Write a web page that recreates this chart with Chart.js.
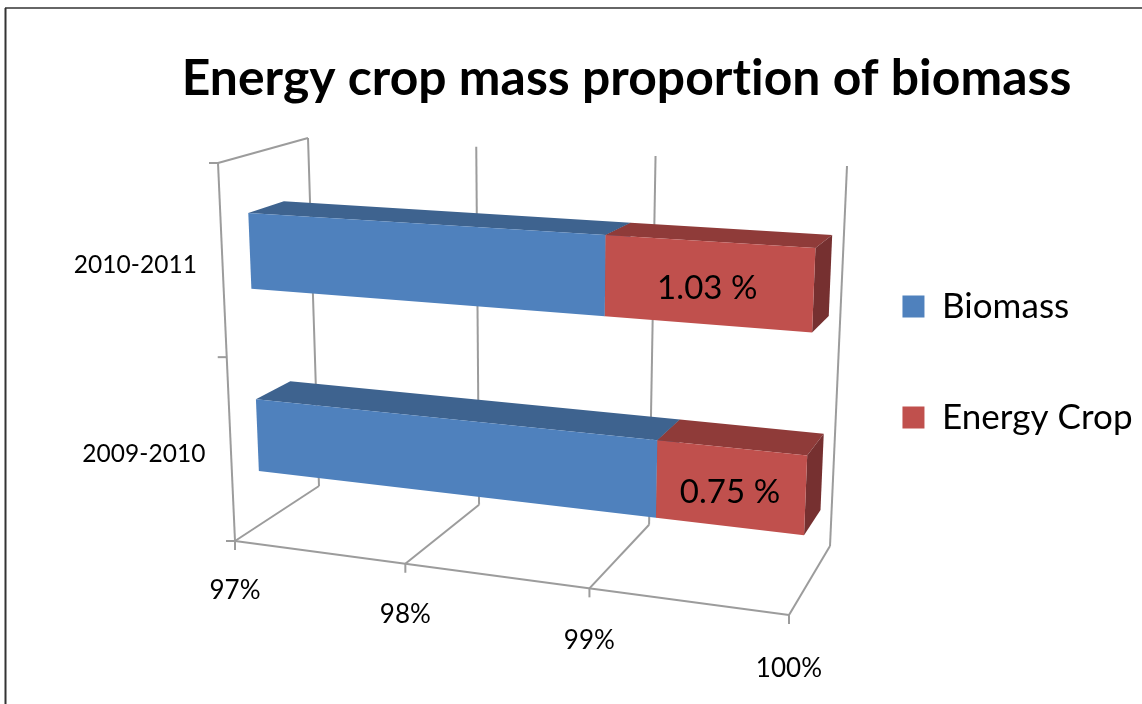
<!doctype html>
<html lang="en">
<head>
    <title>Energy crop mass proportion of biomass</title>
    <meta charset="utf-8">
    <script src="https://cdn.jsdelivr.net/npm/chart.js@4"></script>
    <style>
        body { margin: 0; background: #fff; }
        canvas { display: block; }
    </style>
</head>
<body>
<canvas id="myChart" width="1142" height="704"></canvas>

<script>
    const categories = ['2010-2011', '2009-2010'];
    const biomass = [98.97, 99.25];
    const energyCrop = [1.03, 0.75];
    const axisMin = 97;
    const axisMax = 100;

    // the 3D box: floor and wall corners of the front and back planes, as (0,0) (1,0) (1,1) (0,1)
    const frontPlane = [[235, 541], [789, 615], [805, 191], [218, 163]];
    const backPlane = [[319, 486], [830, 546], [847, 166], [308, 138]];
    const barFront = 0.31;
    const barBack = 0.71;

    function squareToQuad(q) {
        const dx1 = q[1][0] - q[2][0], dx2 = q[3][0] - q[2][0], sx = q[0][0] - q[1][0] + q[2][0] - q[3][0];
        const dy1 = q[1][1] - q[2][1], dy2 = q[3][1] - q[2][1], sy = q[0][1] - q[1][1] + q[2][1] - q[3][1];
        const den = dx1 * dy2 - dx2 * dy1;
        const g = (sx * dy2 - dx2 * sy) / den;
        const h = (dx1 * sy - sx * dy1) / den;
        const a = q[1][0] - q[0][0] + g * q[1][0], b = q[3][0] - q[0][0] + h * q[3][0];
        const d = q[1][1] - q[0][1] + g * q[1][1], e = q[3][1] - q[0][1] + h * q[3][1];
        return function (u, v) {
            const w = g * u + h * v + 1;
            return [(a * u + b * v + q[0][0]) / w, (d * u + e * v + q[0][1]) / w];
        };
    }
    const front = squareToQuad(frontPlane);
    const back = squareToQuad(backPlane);

    function project(u, v, depth) {
        const p = front(u, v), q = back(u, v);
        return [p[0] + (q[0] - p[0]) * depth, p[1] + (q[1] - p[1]) * depth];
    }

    function line(ctx, a, b) {
        ctx.beginPath();
        ctx.moveTo(a[0], a[1]);
        ctx.lineTo(b[0], b[1]);
        ctx.stroke();
    }

    function face(ctx, pts, color) {
        ctx.fillStyle = color;
        ctx.beginPath();
        pts.forEach(function (p) { ctx.lineTo(p[0], p[1]); });
        ctx.closePath();
        ctx.fill();
    }

    const box3d = {
        id: 'box3d',
        beforeDraw(chart) {
            const ctx = chart.ctx;
            // a small spacing keeps Lato from joining "ti" into a ligature
            ctx.letterSpacing = '0.05px';
            ctx.save();
            ctx.fillStyle = '#fff';
            ctx.fillRect(0, 0, chart.width, chart.height);
            ctx.strokeStyle = '#333';
            ctx.lineWidth = 2;
            line(ctx, [5.5, 704], [5.5, 8]);
            ctx.lineWidth = 1.5;
            line(ctx, [5, 8], [1142, 8]);
            ctx.restore();
        },
        beforeDatasetsDraw(chart) {
            const ctx = chart.ctx;
            const xs = chart.scales.x, ys = chart.scales.y;
            const uOf = function (px) { return (px - xs.left) / xs.width; };
            const vOf = function (py) { return (ys.bottom - py) / ys.height; };

            ctx.save();
            ctx.strokeStyle = '#9c9c9c';
            ctx.lineWidth = 2;
            ctx.fillStyle = '#000';
            ctx.textAlign = 'center';
            ctx.textBaseline = 'middle';

            // walls, floor and value ticks
            ctx.font = '26px Lato';
            xs.ticks.forEach(function (tick) {
                const u = uOf(xs.getPixelForValue(tick.value));
                const p = project(u, 0, 0);
                line(ctx, project(u, 1, 1), project(u, 0, 1));
                line(ctx, project(u, 0, 1), p);
                line(ctx, p, [p[0], p[1] + 9]);
                ctx.fillText(tick.label, p[0], p[1] + 50 + 4 * u);
            });
            line(ctx, project(0, 0, 0), project(0, 1, 0));
            line(ctx, project(0, 1, 0), project(0, 1, 1));
            line(ctx, project(0, 0, 0), project(1, 0, 0));

            // category ticks sit between the categories
            const mid = (ys.getPixelForTick(0) + ys.getPixelForTick(1)) / 2;
            [ys.top, mid, ys.bottom].forEach(function (py) {
                const p = project(0, vOf(py), 0);
                line(ctx, [p[0] - 9, p[1]], p);
            });
            ctx.font = '24.5px Lato';
            ys.ticks.forEach(function (tick, i) {
                const p = project(0, vOf(ys.getPixelForTick(i)), 0);
                ctx.fillText(tick.label, p[0] - 87, p[1] + 4);
            });

            // bars, first dataset first so the energy crop part covers the joint
            chart.data.datasets.forEach(function (ds, di) {
                chart.getDatasetMeta(di).data.forEach(function (el) {
                    const r = el.getProps(['x', 'base', 'y', 'height'], true);
                    const u0 = uOf(Math.max(r.base, xs.left)), u1 = uOf(r.x);
                    const v0 = vOf(r.y + r.height / 2), v1 = vOf(r.y - r.height / 2);
                    face(ctx, [project(u0, v1, barFront), project(u1, v1, barFront),
                        project(u1, v1, barBack), project(u0, v1, barBack)], ds.topColor);
                    face(ctx, [project(u1, v0, barFront), project(u1, v0, barBack),
                        project(u1, v1, barBack), project(u1, v1, barFront)], ds.sideColor);
                    face(ctx, [project(u0, v0, barFront), project(u1, v0, barFront),
                        project(u1, v1, barFront), project(u0, v1, barFront)], ds.backgroundColor);
                });
            });

            // value labels on the energy crop part
            ctx.fillStyle = '#000';
            ctx.font = '33px Lato';
            chart.getDatasetMeta(1).data.forEach(function (el, i) {
                const r = el.getProps(['x', 'base', 'y'], true);
                const p = project(uOf((r.x + r.base) / 2), vOf(r.y), barFront);
                ctx.fillText(energyCrop[i].toFixed(2) + ' %', p[0], p[1] + 5);
            });
            ctx.restore();
            return false;
        }
    };

    new Chart(document.getElementById('myChart'), {
        type: 'bar',
        data: {
            labels: categories,
            datasets: [
                { label: 'Biomass', data: biomass, backgroundColor: '#4f81bd', topColor: '#3e638f', sideColor: '#34547a' },
                { label: 'Energy Crop', data: energyCrop, backgroundColor: '#c0504d', topColor: '#8f3b39', sideColor: '#763030' }
            ]
        },
        options: {
            indexAxis: 'y',
            responsive: false,
            animation: false,
            layout: { padding: { left: 111, right: 0, top: 49, bottom: 29 } },
            datasets: { bar: { categoryPercentage: 1, barPercentage: 0.4 } },
            scales: {
                x: {
                    display: false, stacked: true, min: axisMin, max: axisMax,
                    ticks: { stepSize: 1, callback: function (v) { return v + '%'; } }
                },
                y: { display: false, stacked: true }
            },
            plugins: {
                tooltip: { enabled: false },
                title: {
                    display: true,
                    text: 'Energy crop mass proportion of biomass',
                    color: '#000',
                    font: { family: 'Lato', size: 49.8, weight: 'bold' },
                    padding: 0
                },
                legend: {
                    position: 'right',
                    labels: {
                        color: '#000',
                        font: { family: 'Lato', size: 35 },
                        boxWidth: 22,
                        boxHeight: 22,
                        padding: 76
                    }
                }
            }
        },
        plugins: [box3d]
    });
</script>
</body>
</html>
